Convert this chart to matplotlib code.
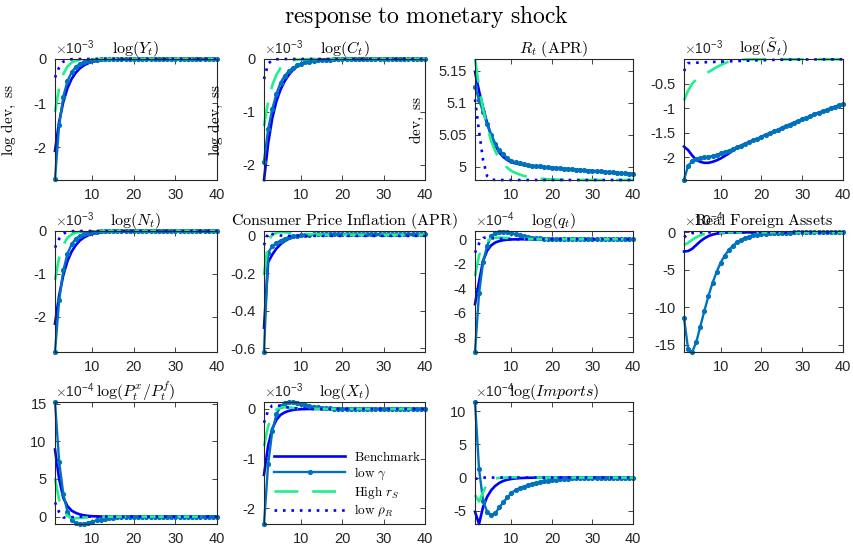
import matplotlib
matplotlib.use('Agg')
import matplotlib.pyplot as plt
import numpy as np

plt.rcParams['font.family'] = ['Liberation Sans', 'DejaVu Sans']
plt.rcParams['mathtext.fontset'] = 'cm'

t = np.arange(1, 41)

series_names = [r'$\mathrm{Benchmark}$', r'$\mathrm{low}\ \gamma$',
                r'$\mathrm{High}\ r_S$', r'$\mathrm{low}\ \rho_R$']

# ---------- log(Y_t), x1e-3 ----------
bench_Y = [-2.08, -1.42, -0.97, -0.66, -0.45, -0.31, -0.21, -0.14, -0.095, -0.065,
           -0.044, -0.030, -0.020, -0.014, -0.009, -0.006, -0.004, -0.003, -0.002, -0.001,
           0, 0, 0, 0, 0, 0, 0, 0, 0, 0,
           0, 0, 0, 0, 0, 0, 0, 0, 0, 0]
lowg_Y = [-2.72, -1.50, -0.85, -0.50, -0.30, -0.18, -0.11, -0.065, -0.040, -0.024,
          -0.014, -0.008, -0.005, -0.003, -0.002, -0.001, 0, 0, 0, 0,
          0, 0, 0, 0, 0, 0, 0, 0, 0, 0,
          0, 0, 0, 0, 0, 0, 0, 0, 0, 0]
high_Y = [-1.20, -0.65, -0.34, -0.17, -0.08, -0.04, -0.02, -0.010, -0.005, -0.002,
          0, 0, 0, 0, 0, 0, 0, 0, 0, 0,
          0, 0, 0, 0, 0, 0, 0, 0, 0, 0,
          0, 0, 0, 0, 0, 0, 0, 0, 0, 0]
lowr_Y = [-0.42, -0.19, -0.06, -0.02, -0.005, 0, 0, 0, 0, 0,
          0, 0, 0, 0, 0, 0, 0, 0, 0, 0,
          0, 0, 0, 0, 0, 0, 0, 0, 0, 0,
          0, 0, 0, 0, 0, 0, 0, 0, 0, 0]

# ---------- log(C_t), x1e-3 ----------
bench_C = [-2.29, -1.60, -1.12, -0.80, -0.58, -0.42, -0.30, -0.21, -0.14, -0.09,
           -0.06, -0.04, -0.026, -0.017, -0.011, -0.007, -0.004, -0.002, -0.001, 0,
           0, 0, 0, 0, 0, 0, 0, 0, 0, 0,
           0, 0, 0, 0, 0, 0, 0, 0, 0, 0]
lowg_C = [-1.94, -1.33, -0.95, -0.66, -0.45, -0.32, -0.23, -0.17, -0.12, -0.09,
          -0.065, -0.048, -0.035, -0.026, -0.019, -0.014, -0.010, -0.007, -0.005, -0.004,
          -0.003, -0.002, -0.002, -0.001, -0.001, 0, 0, 0, 0, 0,
          0, 0, 0, 0, 0, 0, 0, 0, 0, 0]
high_C = [-1.27, -0.80, -0.50, -0.30, -0.17, -0.09, -0.05, -0.025, -0.012, -0.006,
          -0.003, -0.001, 0, 0, 0, 0, 0, 0, 0, 0,
          0, 0, 0, 0, 0, 0, 0, 0, 0, 0,
          0, 0, 0, 0, 0, 0, 0, 0, 0, 0]
lowr_C = [-0.38, -0.09, -0.02, -0.005, 0, 0, 0, 0, 0, 0,
          0, 0, 0, 0, 0, 0, 0, 0, 0, 0,
          0, 0, 0, 0, 0, 0, 0, 0, 0, 0,
          0, 0, 0, 0, 0, 0, 0, 0, 0, 0]

# ---------- R_t (APR) ----------
bench_R = [5.148, 5.118, 5.092, 5.068, 5.048, 5.033, 5.022, 5.015, 5.010, 5.007,
           5.005, 5.0035, 5.0025, 5.0015, 5.0008, 5.0002, 4.9996, 4.9990, 4.9985, 4.9980,
           4.9975, 4.9970, 4.9965, 4.9960, 4.9955, 4.9950, 4.9945, 4.9940, 4.9935, 4.9930,
           4.9925, 4.9920, 4.9915, 4.9910, 4.9905, 4.9900, 4.9896, 4.9892, 4.9888, 4.9885]
lowg_R = [5.125, 5.104, 5.085, 5.066, 5.050, 5.036, 5.026, 5.019, 5.013, 5.009,
          5.0065, 5.0048, 5.0035, 5.0024, 5.0015, 5.0008, 5.0001, 4.9995, 4.9989, 4.9983,
          4.9978, 4.9973, 4.9968, 4.9963, 4.9958, 4.9953, 4.9948, 4.9943, 4.9938, 4.9933,
          4.9928, 4.9923, 4.9918, 4.9913, 4.9908, 4.9903, 4.9899, 4.9895, 4.9891, 4.9887]
high_R = [5.168, 5.125, 5.090, 5.062, 5.040, 5.024, 5.012, 5.004, 4.998, 4.993,
          4.990, 4.9875, 4.9855, 4.984, 4.983, 4.982, 4.9812, 4.9806, 4.9801, 4.9798,
          4.9796, 4.9794, 4.9793, 4.9792, 4.9791, 4.979, 4.979, 4.979, 4.979, 4.979,
          4.979, 4.979, 4.979, 4.979, 4.979, 4.979, 4.979, 4.979, 4.979, 4.979]
lowr_R = [5.105, 5.055, 5.010, 4.985, 4.980, 4.979, 4.979, 4.979, 4.979, 4.979,
          4.979, 4.979, 4.979, 4.979, 4.979, 4.979, 4.979, 4.979, 4.979, 4.979,
          4.979, 4.979, 4.979, 4.979, 4.979, 4.979, 4.979, 4.979, 4.979, 4.979,
          4.979, 4.979, 4.979, 4.979, 4.979, 4.979, 4.979, 4.979, 4.979, 4.979]

# ---------- log(S~_t), x1e-3 ----------
bench_S = [-1.78, -1.85, -1.96, -2.05, -2.09, -2.11, -2.11, -2.09, -2.06, -2.02,
           -1.97, -1.92, -1.86, -1.80, -1.76, -1.72, -1.69, -1.65, -1.62, -1.58,
           -1.54, -1.51, -1.47, -1.44, -1.40, -1.36, -1.33, -1.29, -1.26, -1.22,
           -1.19, -1.16, -1.12, -1.09, -1.06, -1.03, -1.00, -0.97, -0.94, -0.91]
lowg_S = [-2.46, -2.17, -2.08, -2.04, -2.02, -2.00, -1.99, -1.97, -1.95, -1.92,
          -1.89, -1.86, -1.83, -1.79, -1.76, -1.72, -1.69, -1.65, -1.62, -1.58,
          -1.54, -1.51, -1.47, -1.44, -1.40, -1.36, -1.33, -1.29, -1.26, -1.22,
          -1.19, -1.16, -1.12, -1.09, -1.06, -1.03, -1.00, -0.97, -0.94, -0.91]
high_S = [-0.84, -0.64, -0.50, -0.41, -0.35, -0.30, -0.26, -0.21, -0.16, -0.12,
          -0.08, -0.05, -0.03, -0.018, -0.010, -0.006, -0.003, -0.002, -0.001, 0,
          0, 0, 0, 0, 0, 0, 0, 0, 0, 0,
          0, 0, 0, 0, 0, 0, 0, 0, 0, 0]
lowr_S = [-0.24, -0.08, -0.075, -0.070, -0.066, -0.062, -0.058, -0.055, -0.052, -0.049,
          -0.046, -0.043, -0.040, -0.037, -0.034, -0.031, -0.028, -0.025, -0.022, -0.020,
          -0.018, -0.016, -0.014, -0.012, -0.011, -0.010, -0.009, -0.008, -0.007, -0.006,
          -0.005, -0.005, -0.004, -0.004, -0.003, -0.003, -0.002, -0.002, -0.002, -0.001]

# ---------- log(N_t), x1e-3 ----------
bench_N = [-2.16, -1.50, -1.03, -0.70, -0.48, -0.33, -0.22, -0.15, -0.10, -0.07,
           -0.047, -0.032, -0.021, -0.014, -0.009, -0.006, -0.004, -0.003, -0.002, -0.001,
           0, 0, 0, 0, 0, 0, 0, 0, 0, 0,
           0, 0, 0, 0, 0, 0, 0, 0, 0, 0]
lowg_N = [-2.82, -1.61, -0.92, -0.53, -0.31, -0.18, -0.11, -0.065, -0.040, -0.024,
          -0.014, -0.008, -0.005, -0.003, -0.002, -0.001, 0, 0, 0, 0,
          0, 0, 0, 0, 0, 0, 0, 0, 0, 0,
          0, 0, 0, 0, 0, 0, 0, 0, 0, 0]
high_N = [-1.14, -0.62, -0.32, -0.16, -0.08, -0.04, -0.02, -0.010, -0.005, -0.002,
          0, 0, 0, 0, 0, 0, 0, 0, 0, 0,
          0, 0, 0, 0, 0, 0, 0, 0, 0, 0,
          0, 0, 0, 0, 0, 0, 0, 0, 0, 0]
lowr_N = [-0.39, -0.18, -0.06, -0.02, -0.005, 0, 0, 0, 0, 0,
          0, 0, 0, 0, 0, 0, 0, 0, 0, 0,
          0, 0, 0, 0, 0, 0, 0, 0, 0, 0,
          0, 0, 0, 0, 0, 0, 0, 0, 0, 0]

# ---------- Consumer Price Inflation (APR) ----------
bench_P = [-0.49, -0.14, -0.10, -0.068, -0.045, -0.028, -0.016, -0.008, -0.002, 0.002,
           0.004, 0.006, 0.007, 0.008, 0.008, 0.009, 0.009, 0.009, 0.009, 0.009,
           0.009, 0.009, 0.009, 0.009, 0.009, 0.009, 0.009, 0.009, 0.009, 0.009,
           0.009, 0.009, 0.009, 0.009, 0.009, 0.009, 0.009, 0.009, 0.009, 0.009]
lowg_P = [-0.62, -0.09, -0.055, -0.038, -0.025, -0.015, -0.008, -0.003, 0.001, 0.004,
          0.006, 0.007, 0.008, 0.009, 0.009, 0.009, 0.009, 0.009, 0.009, 0.009,
          0.009, 0.009, 0.009, 0.009, 0.009, 0.009, 0.009, 0.009, 0.009, 0.009,
          0.009, 0.009, 0.009, 0.009, 0.009, 0.009, 0.009, 0.009, 0.009, 0.009]
high_P = [-0.21, -0.03, 0.005, 0.016, 0.020, 0.019, 0.017, 0.015, 0.013, 0.011,
          0.010, 0.009, 0.008, 0.007, 0.007, 0.006, 0.006, 0.006, 0.006, 0.006,
          0.006, 0.006, 0.006, 0.006, 0.006, 0.006, 0.006, 0.006, 0.006, 0.006,
          0.006, 0.006, 0.006, 0.006, 0.006, 0.006, 0.006, 0.006, 0.006, 0.006]
lowr_P = [-0.05, 0.018, 0.010, 0.005, 0.002, 0.001, 0, 0, 0, 0,
          0, 0, 0, 0, 0, 0, 0, 0, 0, 0,
          0, 0, 0, 0, 0, 0, 0, 0, 0, 0,
          0, 0, 0, 0, 0, 0, 0, 0, 0, 0]

# ---------- log(q_t), x1e-4 ----------
bench_q = [-5.3, -3.45, -1.75, -0.93, -0.50, -0.27, -0.15, -0.08, -0.04, -0.02,
           -0.01, -0.005, -0.002, -0.001, 0, 0, 0, 0, 0, 0,
           0, 0, 0, 0, 0, 0, 0, 0, 0, 0,
           0, 0, 0, 0, 0, 0, 0, 0, 0, 0]
lowg_q = [-9.2, -4.4, -1.87, -0.53, 0.25, 0.52, 0.62, 0.62, 0.57, 0.49,
          0.40, 0.32, 0.24, 0.18, 0.13, 0.09, 0.06, 0.04, 0.02, 0.01,
          0.0, -0.005, -0.01, -0.01, -0.01, -0.008, -0.006, -0.005, -0.004, -0.003,
          -0.002, -0.002, -0.001, -0.001, 0, 0, 0, 0, 0, 0]
high_q = [-3.0, -1.33, -0.53, -0.15, 0.05, 0.12, 0.13, 0.12, 0.10, 0.08,
          0.065, 0.05, 0.04, 0.03, 0.02, 0.015, 0.01, 0.007, 0.005, 0.003,
          0.002, 0.001, 0, 0, 0, 0, 0, 0, 0, 0,
          0, 0, 0, 0, 0, 0, 0, 0, 0, 0]
lowr_q = [-1.1, -0.35, 0.10, 0.15, 0.10, 0.06, 0.04, 0.02, 0.01, 0.005,
          0, 0, 0, 0, 0, 0, 0, 0, 0, 0,
          0, 0, 0, 0, 0, 0, 0, 0, 0, 0,
          0, 0, 0, 0, 0, 0, 0, 0, 0, 0]

# ---------- Real Foreign Assets, x1e-4 ----------
bench_F = [-2.56, -2.5, -2.2, -1.7, -1.2, -0.8, -0.5, -0.3, -0.18, -0.1,
           -0.06, -0.03, -0.018, -0.01, -0.005, -0.003, -0.001, 0, 0, 0,
           0, 0, 0, 0, 0, 0, 0, 0, 0, 0,
           0, 0, 0, 0, 0, 0, 0, 0, 0, 0]
lowg_F = [-11.4, -15.6, -16.0, -14.7, -12.6, -10.5, -8.5, -6.75, -5.3, -4.05,
          -3.1, -2.35, -1.78, -1.34, -1.0, -0.75, -0.56, -0.42, -0.31, -0.23,
          -0.17, -0.13, -0.09, -0.07, -0.05, -0.04, -0.03, -0.02, -0.015, -0.01,
          -0.008, -0.006, -0.004, -0.003, -0.002, -0.002, -0.001, -0.001, 0, 0]
high_F = [-1.68, -1.4, -1.0, -0.65, -0.4, -0.24, -0.14, -0.08, -0.04, -0.02,
          -0.01, -0.005, -0.002, 0, 0, 0, 0, 0, 0, 0,
          0, 0, 0, 0, 0, 0, 0, 0, 0, 0,
          0, 0, 0, 0, 0, 0, 0, 0, 0, 0]
lowr_F = [-0.66, -0.3, -0.1, -0.03, -0.01, 0, 0, 0, 0, 0,
          0, 0, 0, 0, 0, 0, 0, 0, 0, 0,
          0, 0, 0, 0, 0, 0, 0, 0, 0, 0,
          0, 0, 0, 0, 0, 0, 0, 0, 0, 0]

# ---------- log(P^x/P^f), x1e-4 ----------
bench_X = [8.9, 5.0, 2.5, 1.4, 0.8, 0.5, 0.3, 0.18, 0.10, 0.06,
           0.035, 0.02, 0.01, 0.005, 0.002, 0, 0, 0, 0, 0,
           0, 0, 0, 0, 0, 0, 0, 0, 0, 0,
           0, 0, 0, 0, 0, 0, 0, 0, 0, 0]
lowg_X = [15.2, 7.3, 3.0, 0.66, -0.44, -0.88, -0.97, -0.93, -0.80, -0.65,
          -0.50, -0.38, -0.27, -0.19, -0.12, -0.07, -0.04, -0.02, -0.01, 0,
          0, 0, 0, 0, 0, 0, 0, 0, 0, 0,
          0, 0, 0, 0, 0, 0, 0, 0, 0, 0]
high_X = [5.1, 2.2, 0.8, 0.1, -0.15, -0.20, -0.18, -0.14, -0.10, -0.07,
          -0.05, -0.03, -0.02, -0.01, -0.005, 0, 0, 0, 0, 0,
          0, 0, 0, 0, 0, 0, 0, 0, 0, 0,
          0, 0, 0, 0, 0, 0, 0, 0, 0, 0]
lowr_X = [1.9, 0.6, -0.1, -0.15, -0.08, -0.03, -0.01, 0, 0, 0,
          0, 0, 0, 0, 0, 0, 0, 0, 0, 0,
          0, 0, 0, 0, 0, 0, 0, 0, 0, 0,
          0, 0, 0, 0, 0, 0, 0, 0, 0, 0]

# ---------- log(X_t), x1e-3 ----------
bench_E = [-1.33, -0.74, -0.40, -0.22, -0.12, -0.07, -0.04, -0.02, -0.01, -0.005,
           -0.002, -0.001, 0, 0, 0, 0, 0, 0, 0, 0,
           0, 0, 0, 0, 0, 0, 0, 0, 0, 0,
           0, 0, 0, 0, 0, 0, 0, 0, 0, 0]
lowg_E = [-2.32, -1.12, -0.45, -0.11, 0.05, 0.12, 0.14, 0.14, 0.12, 0.10,
          0.08, 0.06, 0.045, 0.033, 0.024, 0.017, 0.012, 0.008, 0.005, 0.003,
          0.002, 0.001, 0, 0, 0, 0, 0, 0, 0, 0,
          0, 0, 0, 0, 0, 0, 0, 0, 0, 0]
high_E = [-0.75, -0.35, -0.12, -0.01, 0.03, 0.035, 0.03, 0.02, 0.015, 0.01,
          0.007, 0.005, 0.003, 0.002, 0.001, 0, 0, 0, 0, 0,
          0, 0, 0, 0, 0, 0, 0, 0, 0, 0,
          0, 0, 0, 0, 0, 0, 0, 0, 0, 0]
lowr_E = [-0.28, -0.03, 0.07, 0.08, 0.06, 0.04, 0.03, 0.02, 0.01, 0.006,
          0.003, 0.001, 0, 0, 0, 0, 0, 0, 0, 0,
          0, 0, 0, 0, 0, 0, 0, 0, 0, 0,
          0, 0, 0, 0, 0, 0, 0, 0, 0, 0]

# ---------- log(Imports), x1e-4 ----------
bench_I = [-5.15, -7.0, -4.4, -2.9, -1.9, -1.25, -0.8, -0.5, -0.32, -0.2,
           -0.13, -0.08, -0.05, -0.03, -0.02, -0.01, -0.005, -0.002, -0.001, 0,
           0, 0, 0, 0, 0, 0, 0, 0, 0, 0,
           0, 0, 0, 0, 0, 0, 0, 0, 0, 0]
lowg_I = [11.4, 1.26, -3.5, -5.15, -5.7, -5.4, -4.5, -3.7, -3.0, -2.3,
          -1.9, -1.6, -1.35, -1.15, -0.95, -0.8, -0.67, -0.55, -0.46, -0.38,
          -0.31, -0.25, -0.2, -0.16, -0.13, -0.1, -0.08, -0.065, -0.05, -0.04,
          -0.03, -0.025, -0.02, -0.015, -0.012, -0.009, -0.007, -0.005, -0.004, -0.003]
high_I = [-2.63, -3.6, -2.2, -0.9, -0.4, -0.15, -0.05, 0.0, 0.03, 0.04,
          0.04, 0.03, 0.02, 0.015, 0.01, 0.005, 0, 0, 0, 0,
          0, 0, 0, 0, 0, 0, 0, 0, 0, 0,
          0, 0, 0, 0, 0, 0, 0, 0, 0, 0]
lowr_I = [-0.2, -0.1, 0, 0, 0, 0, 0, 0, 0, 0,
          0, 0, 0, 0, 0, 0, 0, 0, 0, 0,
          0, 0, 0, 0, 0, 0, 0, 0, 0, 0,
          0, 0, 0, 0, 0, 0, 0, 0, 0, 0]

titles = [r'$\log(Y_t)$', r'$\log(C_t)$', r'$R_t\ \mathrm{(APR)}$', r'$\log(\tilde{S}_t)$',
          r'$\log(N_t)$', r'$\mathrm{Consumer\ Price\ Inflation\ (APR)}$', r'$\log(q_t)$',
          r'$\mathrm{Real\ Foreign\ Assets}$',
          r'$\log(P_t^x/P_t^f)$', r'$\log(X_t)$', r'$\log(Imports)$']
exponents = ['-3', '-3', None, '-3', '-3', None, '-4', '-4', '-4', '-3', '-4']
ylims = [(-2.74, 0.0), (-2.29, 0.0), (4.979, 5.168), (-2.46, 0.005),
         (-2.82, 0.0), (-0.62, 0.026), (-9.2, 0.67), (-16.0, 0.18),
         (-0.97, 15.2), (-2.32, 0.14), (-7.0, 11.4)]
yticks = [[-2, -1, 0], [-2, -1, 0], [5, 5.05, 5.1, 5.15], [-2, -1.5, -1, -0.5],
          [-2, -1, 0], [-0.6, -0.4, -0.2, 0], [-8, -6, -4, -2, 0], [-15, -10, -5, 0],
          [0, 5, 10, 15], [-2, -1, 0], [-5, 0, 5, 10]]
yticklabels = [['-2', '-1', '0'], ['-2', '-1', '0'], ['5', '5.05', '5.1', '5.15'],
               ['-2', '-1.5', '-1', '-0.5'], ['-2', '-1', '0'],
               ['-0.6', '-0.4', '-0.2', '0'], ['-8', '-6', '-4', '-2', '0'],
               ['-15', '-10', '-5', '0'], ['0', '5', '10', '15'], ['-2', '-1', '0'],
               ['-5', '0', '5', '10']]
data = [(bench_Y, lowg_Y, high_Y, lowr_Y), (bench_C, lowg_C, high_C, lowr_C),
        (bench_R, lowg_R, high_R, lowr_R), (bench_S, lowg_S, high_S, lowr_S),
        (bench_N, lowg_N, high_N, lowr_N), (bench_P, lowg_P, high_P, lowr_P),
        (bench_q, lowg_q, high_q, lowr_q), (bench_F, lowg_F, high_F, lowr_F),
        (bench_X, lowg_X, high_X, lowr_X), (bench_E, lowg_E, high_E, lowr_E),
        (bench_I, lowg_I, high_I, lowr_I)]

W, H = 854, 549
fig = plt.figure(figsize=(W / 100, H / 100), dpi=100)
cols = [(55, 217), (264, 425), (475, 633), (684, 843)]
rows = [(59, 180), (231, 352), (402, 524)]

c_bench = '#0000FF'
c_lowg = '#0072BD'
c_high = '#1EF08C'
c_lowr = '#0000FF'
axc = '#262626'

fig.text(0.5, 1 - 17 / H, r'$\mathrm{response\ to\ monetary\ shock}$',
         ha='center', va='center', fontsize=17)

axes = []
for i in range(11):
    r, c = divmod(i, 4)
    l, rr = cols[c]
    tp, bt = rows[r]
    ax = fig.add_axes([l / W, 1 - bt / H, (rr - l) / W, (bt - tp) / H])
    axes.append(ax)
    b, g, h, d = data[i]
    ax.plot(t, b, color=c_bench, lw=1.9, clip_on=False, label=series_names[0])
    ax.plot(t, g, color=c_lowg, lw=1.7, marker='o', ms=2.7, clip_on=False,
            label=series_names[1])
    ax.plot(t, h, color=c_high, lw=1.9, dashes=(9, 5.3), clip_on=False,
            label=series_names[2])
    ax.plot(t, d, color=c_lowr, lw=1.9, dashes=(1, 2.2), clip_on=False,
            label=series_names[3])
    ax.set_xlim(1, 40)
    ax.set_ylim(*ylims[i])
    ax.set_xticks([10, 20, 30, 40])
    ax.set_xticklabels(['10', '20', '30', '40'])
    ax.set_yticks(yticks[i])
    ax.set_yticklabels(yticklabels[i])
    ax.tick_params(direction='in', top=True, right=True, length=3.5, width=0.6,
                   colors=axc, labelsize=10.5)
    ax.tick_params(axis='x', pad=6)
    ax.tick_params(axis='y', pad=6)
    for s in ax.spines.values():
        s.set_color(axc)
        s.set_linewidth(0.8)
    ax.set_title(titles[i], fontsize=11.5, pad=4, color='black')
    if exponents[i] is not None:
        ax.text(0.0, 1.015, r'$\times\mathregular{10^{%s}}$' % exponents[i],
                transform=ax.transAxes, ha='left', va='bottom', fontsize=10, color=axc)

axes[0].set_ylabel(r'$\mathrm{log\ dev,\ ss}$', fontsize=11)
axes[0].yaxis.set_label_coords(-0.23, 0.5)
axes[1].set_ylabel(r'$\mathrm{log\ dev,\ ss}$', fontsize=11)
axes[1].yaxis.set_label_coords(-0.24, 0.5)
axes[2].set_ylabel(r'$\mathrm{dev,\ ss}$', fontsize=11)
axes[2].yaxis.set_label_coords(-0.31, 0.5)

leg = axes[9].legend(loc='upper left', bbox_to_anchor=(0.062, 0.61), frameon=False,
                     fontsize=9.5, handlelength=5.4, handletextpad=0.7,
                     borderpad=0, borderaxespad=0, labelspacing=0.15)

fig.savefig('out.png', dpi=100)
